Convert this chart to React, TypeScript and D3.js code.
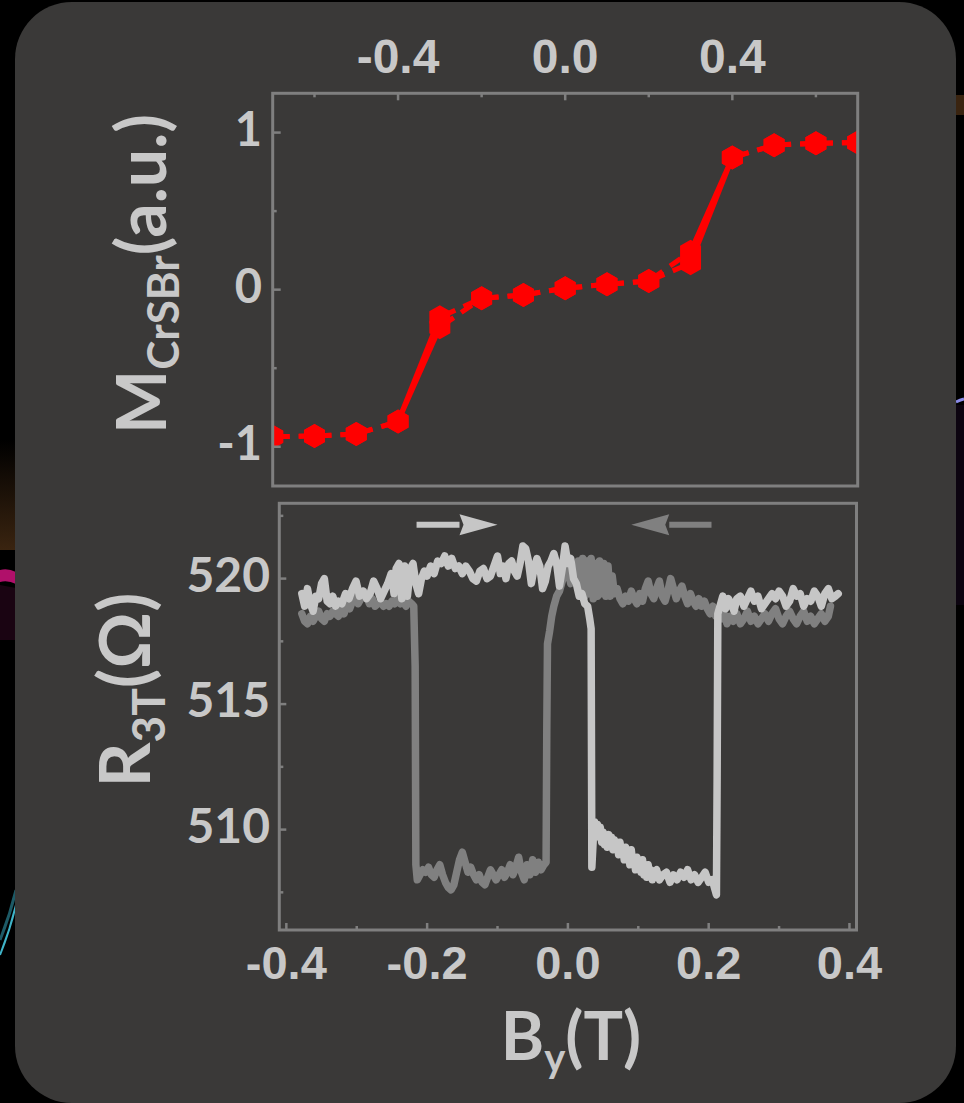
import React from 'react';
import * as d3 from 'd3';

// ---------- Data ----------
// Top panel: magnetization vs field (two sweeps)
const mField = [-0.7, -0.6, -0.5, -0.4, -0.3, -0.2, -0.1, 0, 0.1, 0.2, 0.3, 0.4, 0.5, 0.6, 0.7];
const mSweepUp = [-0.936, -0.932, -0.919, -0.84, -0.24, -0.055, -0.034, 0.009, 0.034, 0.055, 0.168, 0.841, 0.92, 0.932, 0.936];
const mSweepDown = [-0.936, -0.932, -0.919, -0.84, -0.176, -0.055, -0.034, 0.009, 0.034, 0.055, 0.242, 0.841, 0.92, 0.932, 0.936];

// Bottom panel: R3T vs By, [field (T), resistance (Ohm)]
const rSweepUp: [number, number][] = [
  [-0.378, 519.4], [-0.374, 518.9], [-0.370, 519.6], [-0.366, 519.0], [-0.362, 518.7], [-0.358, 519.3], [-0.354, 519.2], [-0.350, 519.8],
  [-0.346, 520.0], [-0.342, 519.1], [-0.338, 519.0], [-0.334, 519.3], [-0.330, 518.9], [-0.326, 519.1], [-0.321, 519.0], [-0.316, 519.4],
  [-0.311, 519.2], [-0.306, 519.6], [-0.301, 519.9], [-0.296, 519.3], [-0.291, 519.5], [-0.286, 519.2], [-0.281, 519.4], [-0.276, 519.9],
  [-0.271, 519.6], [-0.266, 519.2], [-0.261, 519.5], [-0.256, 519.8], [-0.251, 520.2], [-0.247, 519.4], [-0.244, 520.4], [-0.240, 520.6],
  [-0.236, 519.2], [-0.232, 520.5], [-0.228, 519.3], [-0.224, 520.4], [-0.220, 520.6], [-0.216, 519.8], [-0.212, 519.4], [-0.208, 520.0],
  [-0.204, 520.3], [-0.200, 520.1], [-0.195, 520.5], [-0.190, 520.2], [-0.185, 520.7], [-0.180, 520.6], [-0.175, 520.9], [-0.170, 520.5],
  [-0.165, 520.8], [-0.160, 520.4], [-0.155, 520.5], [-0.150, 520.2], [-0.145, 520.5], [-0.140, 520.3], [-0.135, 520.0], [-0.130, 519.9],
  [-0.125, 520.3], [-0.120, 520.4], [-0.115, 520.0], [-0.110, 520.1], [-0.105, 520.5], [-0.100, 520.9], [-0.096, 520.2], [-0.092, 520.5],
  [-0.088, 520.0], [-0.084, 520.6], [-0.080, 520.7], [-0.076, 520.3], [-0.072, 520.1], [-0.068, 520.6], [-0.064, 521.3], [-0.060, 521.2],
  [-0.056, 520.7], [-0.052, 519.8], [-0.048, 520.4], [-0.044, 520.8], [-0.040, 520.5], [-0.036, 519.6], [-0.032, 519.9], [-0.028, 520.5],
  [-0.024, 520.7], [-0.020, 521.0], [-0.016, 520.6], [-0.012, 519.7], [-0.008, 520.4], [-0.004, 521.3], [0.000, 520.6], [0.004, 520.8],
  [0.008, 520.0], [0.012, 519.8], [0.016, 519.3], [0.020, 519.4], [0.024, 519.0], [0.028, 518.9], [0.031, 518.4], [0.033, 518.0],
  [0.034, 508.5], [0.036, 509.6], [0.038, 510.3], [0.040, 509.7], [0.042, 510.2], [0.044, 509.8], [0.046, 510.1], [0.048, 509.5],
  [0.050, 509.9], [0.052, 509.4], [0.054, 509.7], [0.056, 509.3], [0.058, 509.8], [0.060, 509.4], [0.062, 509.7], [0.064, 509.2],
  [0.066, 509.6], [0.068, 509.3], [0.070, 509.5], [0.072, 509.0], [0.074, 509.5], [0.076, 509.1], [0.078, 509.3], [0.080, 508.8],
  [0.082, 509.3], [0.084, 508.9], [0.086, 509.1], [0.088, 508.6], [0.090, 509.2], [0.092, 508.7], [0.094, 508.9], [0.096, 508.4],
  [0.098, 508.9], [0.100, 508.5], [0.102, 508.7], [0.104, 508.3], [0.106, 508.8], [0.108, 508.2], [0.110, 508.5], [0.112, 508.1],
  [0.114, 508.6], [0.116, 508.2], [0.118, 508.4], [0.120, 508.0], [0.122, 508.3], [0.126, 508.4], [0.130, 508.0], [0.135, 508.2],
  [0.140, 508.3], [0.145, 507.9], [0.150, 508.2], [0.155, 508.0], [0.160, 508.3], [0.165, 508.1], [0.170, 508.4], [0.175, 508.0],
  [0.180, 508.2], [0.185, 507.9], [0.190, 508.1], [0.195, 508.3], [0.200, 507.9], [0.205, 508.0], [0.209, 507.6], [0.211, 507.4],
  [0.212, 512.0], [0.213, 518.6], [0.216, 518.9], [0.220, 519.3], [0.224, 518.8], [0.228, 519.2], [0.232, 519.0], [0.236, 518.7],
  [0.240, 519.2], [0.245, 519.3], [0.250, 518.9], [0.255, 519.2], [0.260, 519.5], [0.265, 519.1], [0.270, 519.3], [0.275, 518.8],
  [0.280, 519.0], [0.285, 519.2], [0.290, 519.4], [0.295, 519.2], [0.300, 519.5], [0.305, 519.3], [0.310, 518.9], [0.315, 519.1],
  [0.320, 519.6], [0.325, 519.3], [0.330, 519.4], [0.335, 518.9], [0.340, 519.2], [0.345, 519.1], [0.350, 519.5], [0.355, 519.3],
  [0.360, 518.9], [0.365, 519.4], [0.370, 519.6], [0.375, 519.2], [0.380, 519.3], [0.384, 519.4],
];

const rSweepDown: [number, number][] = [
  [-0.378, 518.6], [-0.374, 518.3], [-0.370, 518.2], [-0.366, 518.5], [-0.362, 518.3], [-0.358, 518.5], [-0.354, 518.7], [-0.350, 518.4],
  [-0.346, 518.3], [-0.342, 518.6], [-0.338, 518.5], [-0.334, 518.7], [-0.330, 518.6], [-0.326, 518.5], [-0.322, 518.8], [-0.318, 518.6],
  [-0.314, 519.0], [-0.310, 518.8], [-0.306, 519.1], [-0.302, 519.3], [-0.298, 519.0], [-0.294, 519.2], [-0.290, 519.5], [-0.286, 519.3],
  [-0.282, 519.0], [-0.278, 519.2], [-0.274, 518.9], [-0.270, 519.0], [-0.266, 519.1], [-0.262, 518.9], [-0.258, 519.0], [-0.254, 518.9],
  [-0.250, 519.1], [-0.246, 519.0], [-0.242, 519.2], [-0.238, 519.0], [-0.234, 519.1], [-0.230, 518.9], [-0.226, 519.1], [-0.222, 519.0],
  [-0.219, 518.9], [-0.217, 516.5], [-0.216, 508.6], [-0.214, 508.0], [-0.210, 508.2], [-0.206, 508.4], [-0.202, 508.3], [-0.198, 508.5],
  [-0.194, 508.2], [-0.190, 508.1], [-0.186, 508.4], [-0.182, 508.6], [-0.178, 508.2], [-0.174, 507.9], [-0.170, 507.7], [-0.166, 507.6],
  [-0.162, 507.8], [-0.158, 508.3], [-0.154, 508.8], [-0.150, 509.1], [-0.146, 508.7], [-0.142, 508.3], [-0.138, 508.5], [-0.134, 508.2],
  [-0.130, 508.0], [-0.126, 508.2], [-0.122, 507.9], [-0.118, 507.8], [-0.114, 508.1], [-0.110, 508.4], [-0.106, 508.2], [-0.102, 508.0],
  [-0.098, 508.2], [-0.094, 508.4], [-0.090, 508.1], [-0.086, 508.3], [-0.082, 508.6], [-0.078, 508.2], [-0.074, 508.5], [-0.070, 508.9],
  [-0.066, 508.3], [-0.062, 508.0], [-0.058, 508.6], [-0.054, 508.2], [-0.050, 508.8], [-0.046, 508.3], [-0.042, 508.7], [-0.038, 508.4],
  [-0.034, 508.6], [-0.031, 508.7], [-0.030, 514.0], [-0.029, 517.4], [-0.026, 517.9], [-0.023, 518.5], [-0.020, 518.9], [-0.016, 519.3],
  [-0.012, 519.5], [-0.008, 519.9], [-0.004, 520.2], [0.000, 520.4], [0.004, 519.8], [0.008, 520.5], [0.012, 520.0], [0.015, 520.7],
  [0.018, 519.6], [0.021, 520.8], [0.024, 519.3], [0.027, 520.7], [0.030, 519.4], [0.033, 520.8], [0.036, 519.2], [0.039, 520.6],
  [0.042, 519.3], [0.045, 520.7], [0.048, 519.4], [0.051, 520.6], [0.054, 519.3], [0.057, 520.5], [0.060, 519.3], [0.063, 520.1],
  [0.066, 519.4], [0.070, 519.6], [0.074, 519.2], [0.078, 519.0], [0.082, 519.3], [0.086, 519.1], [0.090, 519.5], [0.094, 519.2],
  [0.098, 519.0], [0.102, 519.4], [0.106, 519.1], [0.110, 519.6], [0.114, 519.9], [0.118, 519.4], [0.122, 519.2], [0.126, 519.6],
  [0.130, 519.9], [0.134, 519.3], [0.138, 519.1], [0.142, 519.5], [0.146, 520.0], [0.150, 519.6], [0.154, 519.2], [0.158, 519.5],
  [0.162, 519.7], [0.166, 519.3], [0.170, 519.0], [0.174, 519.4], [0.178, 519.1], [0.182, 518.9], [0.186, 519.2], [0.190, 518.9],
  [0.194, 519.1], [0.198, 518.8], [0.202, 518.6], [0.206, 518.9], [0.210, 518.5], [0.214, 518.7], [0.218, 518.4], [0.222, 518.6],
  [0.226, 518.2], [0.230, 518.5], [0.235, 518.3], [0.240, 518.6], [0.245, 518.2], [0.250, 518.4], [0.255, 518.7], [0.260, 518.3],
  [0.265, 518.5], [0.270, 518.2], [0.275, 518.4], [0.280, 518.6], [0.285, 518.3], [0.290, 518.6], [0.295, 518.8], [0.300, 518.4],
  [0.305, 518.2], [0.310, 518.5], [0.315, 518.7], [0.320, 518.4], [0.325, 518.2], [0.330, 518.5], [0.335, 518.7], [0.340, 518.3],
  [0.345, 518.5], [0.350, 518.2], [0.355, 518.4], [0.360, 518.6], [0.365, 518.3], [0.370, 518.5], [0.373, 518.9],
];

// Ticks
const topXMajor = [-0.4, 0, 0.4];
const topXLabels = ['-0.4', '0.0', '0.4'];
const topXMinor = [-0.6, -0.2, 0.2, 0.6];
const topYMajor = [-1, 0, 1];
const topYLabels = ['-1', '0', '1'];
const topYMinor = [-0.5, 0.5];
const botXMajor = [-0.4, -0.2, 0, 0.2, 0.4];
const botXLabels = ['-0.4', '-0.2', '0.0', '0.2', '0.4'];
const botXMinor = [-0.3, -0.1, 0.1, 0.3];
const botYMajor = [510, 515, 520];
const botYLabels = ['510', '515', '520'];
const botYMinor = [507.5, 512.5, 517.5, 522.5];

// Sweep direction arrows: [from field, to field] at resistance level
const arrowUpSweep = [-0.215, -0.1];
const arrowDownSweep = [0.204, 0.09];
const arrowLevel = 522.15;

// ---------- Style ----------
const W = 964;
const H = 1103;
const PANEL = '#3a3938';
const FRAME = '#7f7f7f';
const TEXT = '#c8c8c8';
const RED = '#ff0000';
const DARK = '#808080';
const LIGHT = '#c6c6c6';
const TICK_FONT = '"Liberation Sans", Arial, sans-serif';
const TITLE_FONT = 'Lato, "Open Sans", sans-serif';

const top = { l: 272.7, t: 93.3, r: 857.7, b: 486 };
const bot = { l: 279.3, t: 503.3, r: 856.5, b: 930 };

export default function App() {
  const xT = d3.scaleLinear().domain([-0.7, 0.7]).range([top.l, top.r]);
  const yT = d3.scaleLinear().domain([-1.25, 1.25]).range([top.b, top.t]);
  const xB = d3.scaleLinear().domain([-0.41, 0.41]).range([bot.l, bot.r]);
  const yB = d3.scaleLinear().domain([506, 523]).range([bot.b, bot.t]);

  const rLine = d3.line<[number, number]>().x((d) => xB(d[0])).y((d) => yB(d[1]));

  const hw = 10.5, hh = 12;
  const hex = (cx: number, cy: number) =>
    `M${cx},${cy - hh}L${cx + hw},${cy - hh / 2}L${cx + hw},${cy + hh / 2}L${cx},${cy + hh}L${cx - hw},${cy + hh / 2}L${cx - hw},${cy - hh / 2}Z`;

  const segs = (vals: number[]) =>
    mField.slice(1).map((f, i) => ({
      x1: xT(mField[i]), y1: yT(vals[i]), x2: xT(f), y2: yT(vals[i + 1]),
      jump: Math.abs(vals[i + 1] - vals[i]) > 0.4,
    }));
  const allSegs = [...segs(mSweepUp), ...segs(mSweepDown)];

  const arrow = (from: number, to: number, color: string) => {
    const x0 = xB(from), x1 = xB(to), y = yB(arrowLevel);
    const dir = Math.sign(x1 - x0);
    const headLen = 38, headH = 10.5, shaft = 3;
    const xh = x1 - dir * headLen;
    return (
      <g>
        <path d={`M${x0},${y - shaft}L${xh},${y - shaft}L${xh},${y + shaft}L${x0},${y + shaft}Z`} fill={color} />
        <path d={`M${xh},${y - headH}L${x1},${y}L${xh},${y + headH}L${xh + dir * 4},${y}Z`} fill={color} />
      </g>
    );
  };

  return (
    <svg width={W} height={H} style={{ position: 'absolute', left: 0, top: 0, display: 'block', background: '#000' }}>
      <defs>
        <clipPath id="clipTop"><rect x={top.l} y={top.t} width={top.r - top.l} height={top.b - top.t} /></clipPath>
        <linearGradient id="glowL" x1="0" y1="0" x2="0" y2="1">
          <stop offset="0" stopColor="#000" />
          <stop offset="1" stopColor="#3a2410" />
        </linearGradient>
      </defs>
      {/* decorative background streaks */}
      <rect x={0} y={440} width={16} height={110} fill="url(#glowL)" />
      <path d="M0,570 Q8,568 16,572 L16,584 Q8,580 0,582 Z" fill="#b0106a" />
      <path d="M0,585 L16,588 L16,640 L0,640 Z" fill="#1a0412" />
      <path d="M0,955 Q10,930 16,905" stroke="#3fb4c8" strokeWidth={2} fill="none" />
      <path d="M0,940 Q10,915 16,890" stroke="#1d5a66" strokeWidth={3} fill="none" />
      <path d="M956,402 Q960,400 964,399" stroke="#8a8ae8" strokeWidth={3} fill="none" />
      <rect x={956} y={405} width={8} height={200} fill="#0c0410" />
      <rect x={956} y={95} width={8} height={20} fill="#3a2410" />

      {/* panel */}
      <rect x={15} y={2} width={941} height={1101} rx={57} ry={57} fill={PANEL} />

      {/* ---- top panel ---- */}
      <g clipPath="url(#clipTop)">
        {allSegs.map((s, i) => (
          <line key={i} x1={s.x1} y1={s.y1} x2={s.x2} y2={s.y2} stroke={RED} strokeWidth={5}
            strokeDasharray={s.jump ? undefined : '13 9'} strokeDashoffset={-4} />
        ))}
        {mField.map((f, i) => <path key={'u' + i} d={hex(xT(f), yT(mSweepUp[i]))} fill={RED} />)}
        {mField.map((f, i) => <path key={'d' + i} d={hex(xT(f), yT(mSweepDown[i]))} fill={RED} />)}
      </g>
      <rect x={top.l} y={top.t} width={top.r - top.l} height={top.b - top.t} fill="none" stroke={FRAME} strokeWidth={3} />
      {topXMajor.map((v) => <line key={'tx' + v} x1={xT(v)} x2={xT(v)} y1={top.t} y2={top.t + 7} stroke={FRAME} strokeWidth={2.5} />)}
      {topXMinor.map((v) => <line key={'txm' + v} x1={xT(v)} x2={xT(v)} y1={top.t} y2={top.t + 4} stroke={FRAME} strokeWidth={2.5} />)}
      {topYMajor.map((v) => <line key={'ty' + v} x1={top.l} x2={top.l + 8} y1={yT(v)} y2={yT(v)} stroke={FRAME} strokeWidth={2.5} />)}
      {topYMinor.map((v) => <line key={'tym' + v} x1={top.l} x2={top.l + 4} y1={yT(v)} y2={yT(v)} stroke={FRAME} strokeWidth={2.5} />)}
      {topXMajor.map((v, i) => (
        <text key={'txl' + v} x={xT(v)} y={73} textAnchor="middle" fill={TEXT} fontFamily={TICK_FONT} fontWeight="bold" fontSize={48}>{topXLabels[i]}</text>
      ))}
      {topYMajor.map((v, i) => (
        <text key={'tyl' + v} x={262} y={yT(v) + 13} textAnchor="end" fill={TEXT} fontFamily={TITLE_FONT} fontWeight="bold" fontSize={47}>{topYLabels[i]}</text>
      ))}
      <text transform="translate(166,274) rotate(-90)" textAnchor="middle" fill={TEXT} fontFamily={TITLE_FONT} fontWeight="bold" fontSize={68}>
        M<tspan fontSize={44} dy={13}>CrSBr</tspan><tspan dy={-13}>(a.u.)</tspan>
      </text>

      {/* ---- bottom panel ---- */}
      <path d={rLine(rSweepDown) || ''} fill="none" stroke={DARK} strokeWidth={7.5} strokeLinejoin="round" strokeLinecap="round" />
      <path d={rLine(rSweepUp) || ''} fill="none" stroke={LIGHT} strokeWidth={7.5} strokeLinejoin="round" strokeLinecap="round" />
      {arrow(arrowUpSweep[0], arrowUpSweep[1], LIGHT)}
      {arrow(arrowDownSweep[0], arrowDownSweep[1], DARK)}
      <rect x={bot.l} y={bot.t} width={bot.r - bot.l} height={bot.b - bot.t} fill="none" stroke={FRAME} strokeWidth={3} />
      {botXMajor.map((v) => <line key={'bx' + v} x1={xB(v)} x2={xB(v)} y1={bot.b} y2={bot.b - 7} stroke={FRAME} strokeWidth={2.5} />)}
      {botXMinor.map((v) => <line key={'bxm' + v} x1={xB(v)} x2={xB(v)} y1={bot.b} y2={bot.b - 4} stroke={FRAME} strokeWidth={2.5} />)}
      {botYMajor.map((v) => <line key={'by' + v} x1={bot.l} x2={bot.l + 7} y1={yB(v)} y2={yB(v)} stroke={FRAME} strokeWidth={2.5} />)}
      {botYMinor.map((v) => <line key={'bym' + v} x1={bot.l} x2={bot.l + 4} y1={yB(v)} y2={yB(v)} stroke={FRAME} strokeWidth={2.5} />)}
      {botXMajor.map((v, i) => (
        <text key={'bxl' + v} x={xB(v)} y={979} textAnchor="middle" fill={TEXT} fontFamily={TICK_FONT} fontWeight="bold" fontSize={47}>{botXLabels[i]}</text>
      ))}
      {botYMajor.map((v, i) => (
        <text key={'byl' + v} x={270} y={yB(v) + 13} textAnchor="end" fill={TEXT} fontFamily={TITLE_FONT} fontWeight="bold" fontSize={48}>{botYLabels[i]}</text>
      ))}
      <text transform="translate(150,690) rotate(-90)" textAnchor="middle" fill={TEXT} fontFamily={TITLE_FONT} fontWeight="bold" fontSize={70}>
        R<tspan fontSize={46} dy={15}>3T</tspan><tspan dy={-15}>(Ω)</tspan>
      </text>
      <text x={571} y={1060} textAnchor="middle" fill={TEXT} fontFamily={TITLE_FONT} fontWeight="bold" fontSize={66}>
        B<tspan fontSize={40} dy={12}>y</tspan><tspan dy={-12}>(T)</tspan>
      </text>
    </svg>
  );
}
